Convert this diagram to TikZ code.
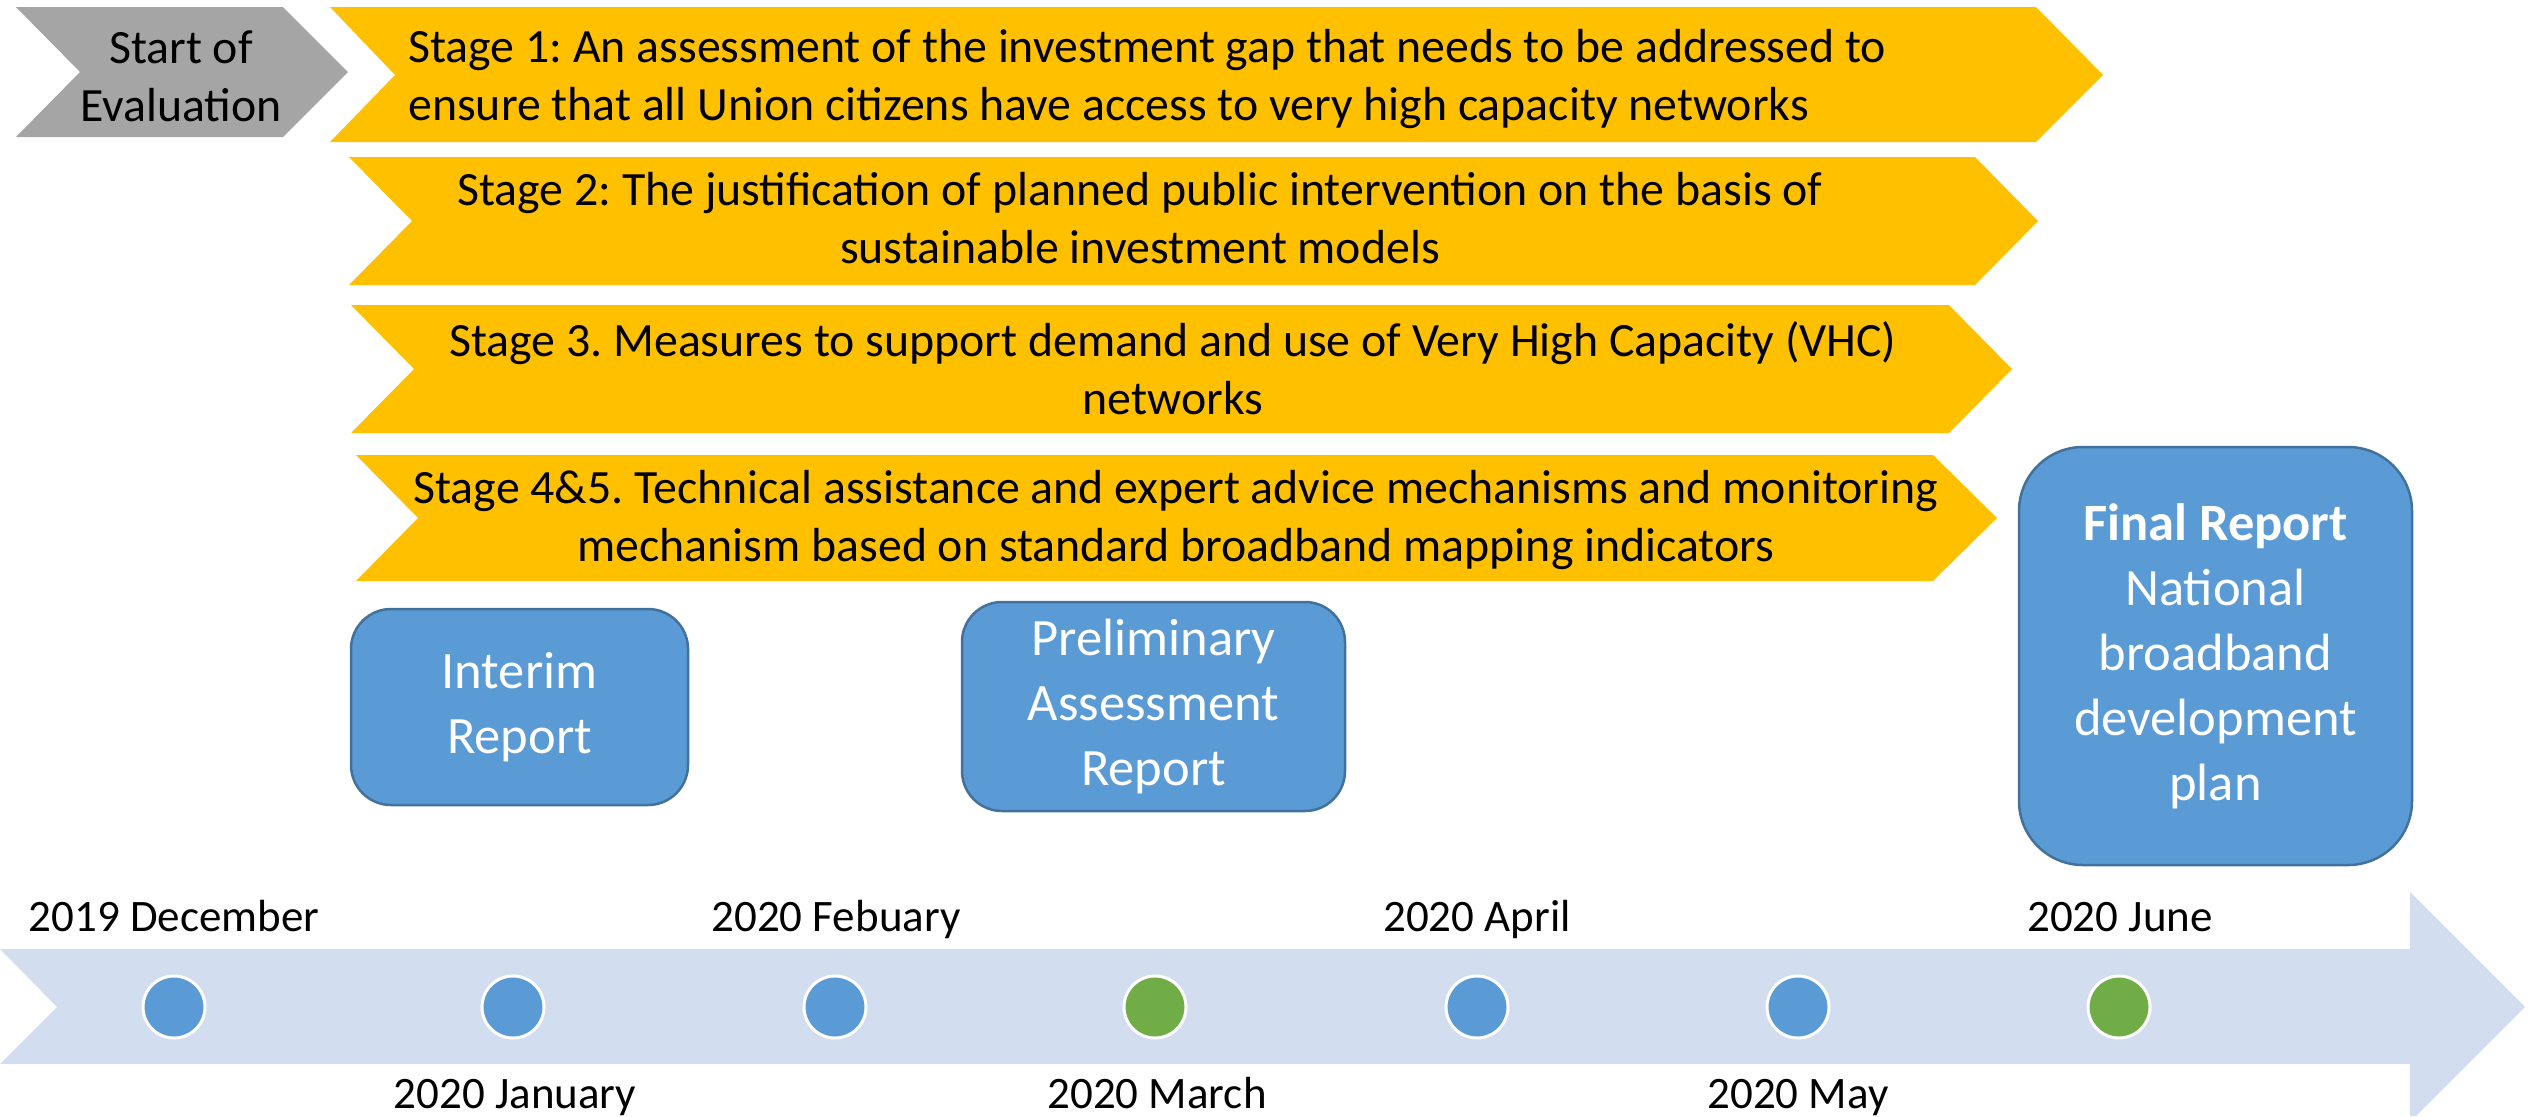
\documentclass[tikz,border=0pt]{standalone}
\usepackage{fontspec}
\setmainfont{Carlito}
\definecolor{stagefill}{HTML}{FFC000}
\definecolor{graychev}{HTML}{A5A5A5}
\definecolor{bandfill}{HTML}{D2DEEF}
\definecolor{boxblue}{HTML}{5B9BD5}
\definecolor{boxborder}{HTML}{41719C}
\definecolor{mgreen}{HTML}{70AD47}
\frenchspacing
\begin{document}
\begin{tikzpicture}[x=0.5pt,y=-0.5pt,
  stagetext/.style={font=\fontsize{23.9}{29}\selectfont, text=black, align=center, inner sep=0pt},
  datetext/.style={font=\fontsize{22.5}{27}\selectfont, text=black, inner sep=0pt, anchor=base},
  report/.style={draw=boxborder, line width=1.25pt, fill=boxblue, text=white, align=center,
    rounded corners=20pt, font=\fontsize{26.25}{32.5}\selectfont, inner sep=0pt},
  milestone/.style={circle, draw=white, line width=1.5pt, minimum size=31pt, inner sep=0pt}]

\useasboundingbox (0,0) rectangle (2529,1116);

% timeline band
\fill[bandfill] (0,949) -- (2410,949) -- (2410,892) -- (2525,1007) -- (2416,1116)
  -- (2410,1116) -- (2410,1064) -- (0,1064) -- (57,1007) -- cycle;

% chevrons
\fill[graychev] (16,7) -- (283,7) -- (348,72) -- (283,137) -- (16,137) -- (80,72) -- cycle;
\fill[stagefill] (330,7) -- (2036,7) -- (2103,75) -- (2036,142) -- (330,142) -- (395,75) -- cycle;
\fill[stagefill] (349,157) -- (1975,157) -- (2038,221) -- (1975,285) -- (349,285) -- (412,221) -- cycle;
\fill[stagefill] (351,305) -- (1949,305) -- (2012,369) -- (1949,433) -- (351,433) -- (414,369) -- cycle;
\fill[stagefill] (356,455) -- (1933,455) -- (1997,518) -- (1933,581) -- (356,581) -- (418,518) -- cycle;

\node[stagetext] (start) at (181,76) {Start of\\Evaluation};
\node[stagetext, anchor=west, align=left] (s1) at (408,79)
  {Stage 1: An assessment of the investment gap that needs to be addressed to\\ensure that all Union citizens have access to very high capacity networks};
\node[stagetext] (s2) at (1140,218)
  {Stage 2: The justification of planned public intervention on the basis of\\sustainable investment models};
\node[stagetext] (s3) at (1173,368)
  {Stage 3. Measures to support demand and use of Very High Capacity (VHC)\\networks};
\node[stagetext] (s4) at (1176,520)
  {Stage 4\&5. Technical assistance and expert advice mechanisms and monitoring\\mechanism based on standard broadband mapping indicators};

% report boxes
\node[report, minimum width=168.5pt, minimum height=98pt] (interim) at (519.5,707)
  {Interim\\Report};
\node[report, minimum width=191.5pt, minimum height=104.5pt] (prelim) at (1153.5,706.5)
  {Preliminary\\Assessment\\Report};
\node[report, rounded corners=32pt, minimum width=196.5pt, minimum height=209pt] (final) at (2215.5,656)
  {\textbf{Final Report}\\National\\broadband\\development\\plan};

% milestones
\node[milestone, fill=boxblue] (m1) at (174,1007) {};
\node[milestone, fill=boxblue] (m2) at (513,1007) {};
\node[milestone, fill=boxblue] (m3) at (835,1007) {};
\node[milestone, fill=mgreen] (m4) at (1155,1007) {};
\node[milestone, fill=boxblue] (m5) at (1477,1007) {};
\node[milestone, fill=boxblue] (m6) at (1798,1007) {};
\node[milestone, fill=mgreen] (m7) at (2119,1007) {};

% dates
\node[datetext] (d1) at (174,931) {2019 December};
\node[datetext] (d2) at (515,1108) {2020 January};
\node[datetext] (d3) at (836,931) {2020 Febuary};
\node[datetext] (d4) at (1157,1108) {2020 March};
\node[datetext] (d5) at (1477,931) {2020 April};
\node[datetext] (d6) at (1798,1108) {2020 May};
\node[datetext] (d7) at (2120,931) {2020 June};
\end{tikzpicture}
\end{document}
